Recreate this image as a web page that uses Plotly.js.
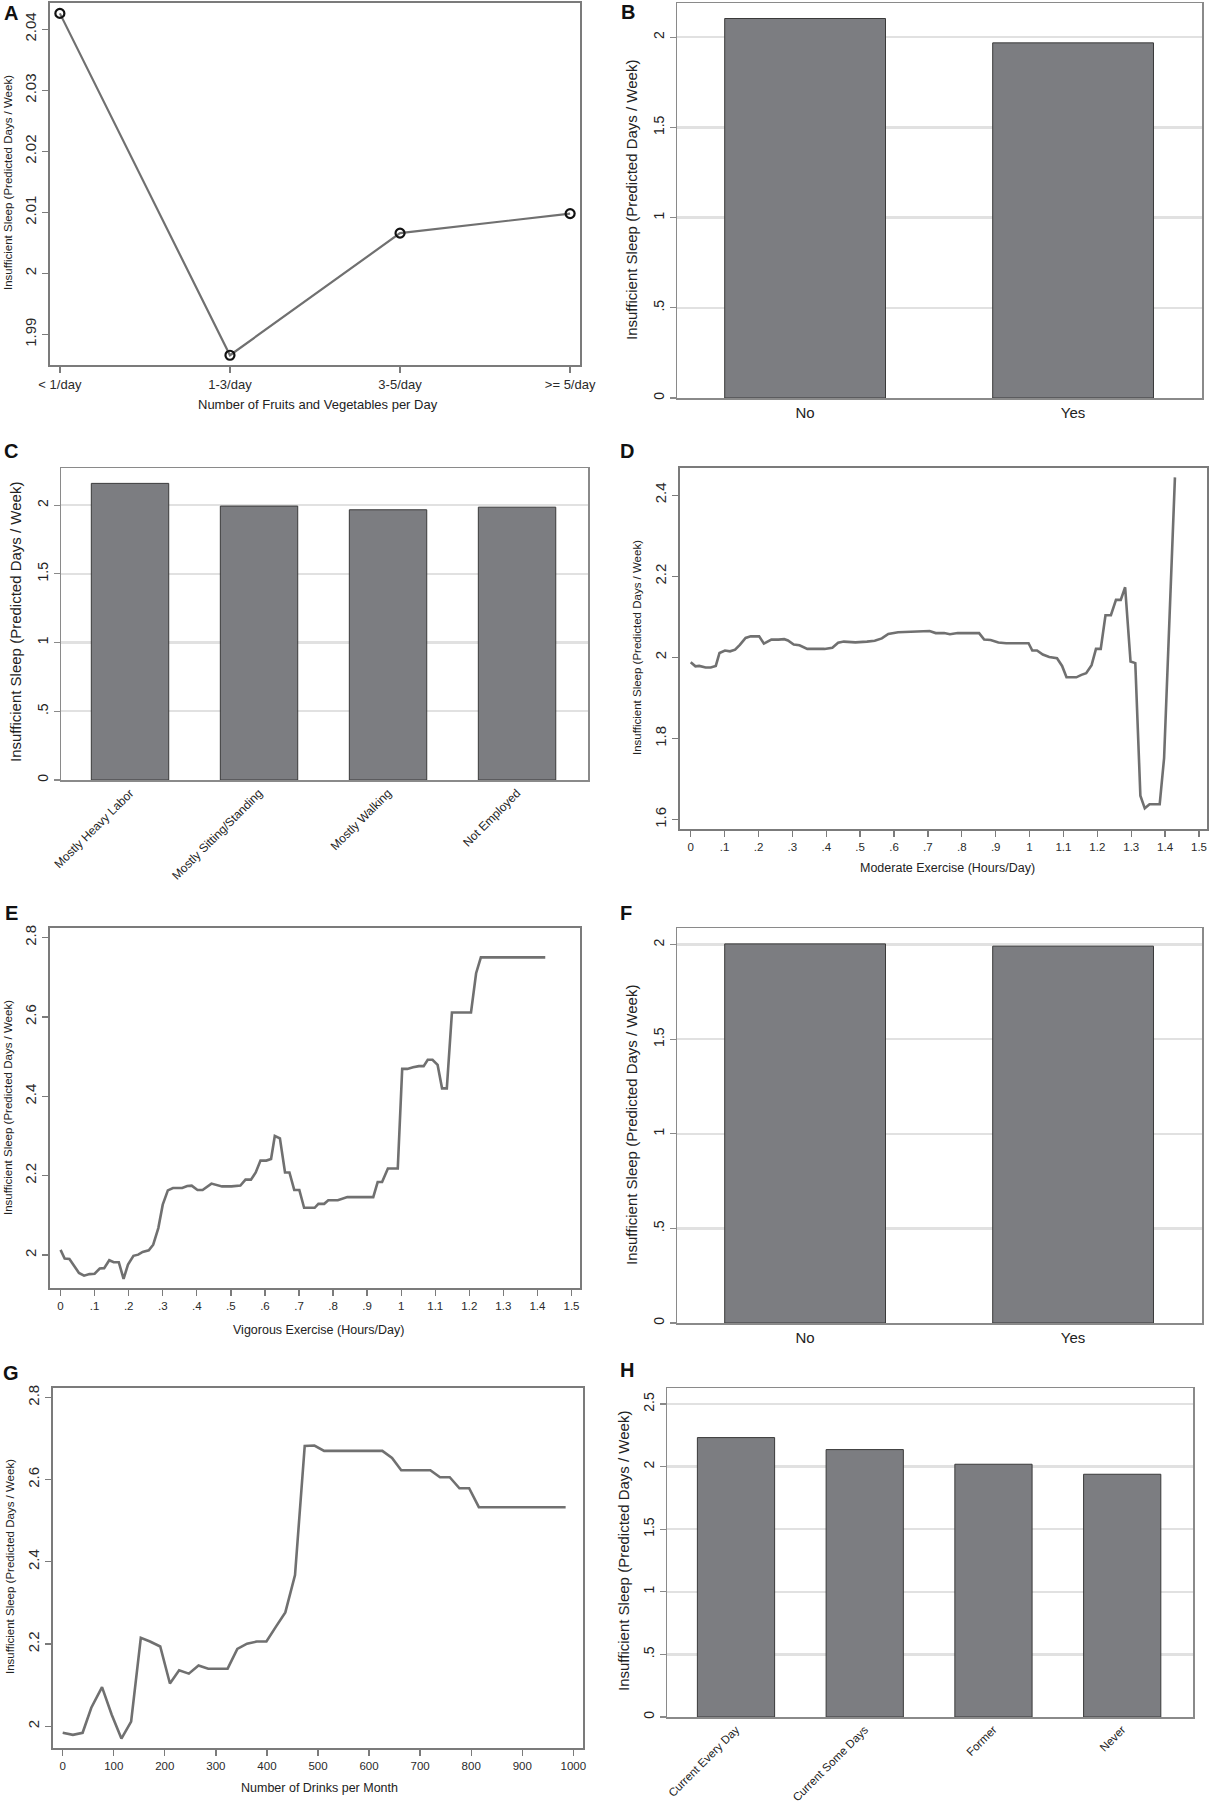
<!DOCTYPE html>
<html>
<head>
<meta charset="utf-8">
<script src="https://cdn.plot.ly/plotly-3.0.1.min.js"></script>
<style>html,body{margin:0;padding:0;background:#fff;}#chart{width:1209px;height:1806px;}</style>
</head>
<body>
<div id="chart"></div>
<script>
// ---------- DATA ----------
const fruitVegCats = ['< 1/day', '1-3/day', '3-5/day', '>= 5/day'];
const fruitVegVals = [2.0426, 1.9866, 2.0066, 2.0098];

const panelBCats = ['No', 'Yes'];
const panelBVals = [2.104, 1.969];

const jobCats = ['Mostly Heavy Labor', 'Mostly Sitting/Standing', 'Mostly Walking', 'Not Employed'];
const jobVals = [2.158, 1.993, 1.966, 1.985];

const moderateHours = [
  0, 0.014, 0.025, 0.044, 0.059, 0.074, 0.085, 0.101, 0.116, 0.131,
  0.145, 0.162, 0.177, 0.202, 0.216, 0.238, 0.259, 0.276, 0.287, 0.304,
  0.321, 0.344, 0.367, 0.395, 0.418, 0.435, 0.452, 0.486, 0.520, 0.543,
  0.564, 0.583, 0.612, 0.646, 0.674, 0.705, 0.723, 0.748, 0.765, 0.788,
  0.822, 0.851, 0.866, 0.885, 0.908, 0.931, 0.965, 0.997, 1.008, 1.022,
  1.039, 1.058, 1.081, 1.096, 1.109, 1.138, 1.153, 1.167, 1.183, 1.196,
  1.210, 1.224, 1.240, 1.255, 1.269, 1.282, 1.298, 1.312, 1.327, 1.340,
  1.354, 1.384, 1.397, 1.411, 1.429];
const moderateVals = [
  1.988, 1.978, 1.979, 1.975, 1.975, 1.979, 2.011, 2.017, 2.015, 2.019,
  2.031, 2.048, 2.052, 2.052, 2.034, 2.044, 2.044, 2.045, 2.042, 2.032,
  2.030, 2.021, 2.021, 2.021, 2.024, 2.036, 2.039, 2.037, 2.039, 2.041,
  2.047, 2.058, 2.062, 2.063, 2.065, 2.065, 2.060, 2.060, 2.057, 2.060,
  2.060, 2.060, 2.044, 2.043, 2.037, 2.035, 2.035, 2.035, 2.017, 2.017,
  2.007, 2.001, 1.998, 1.979, 1.951, 1.951, 1.957, 1.961, 1.981, 2.021,
  2.021, 2.104, 2.104, 2.142, 2.142, 2.173, 1.990, 1.986, 1.659, 1.628,
  1.638, 1.638, 1.752, 2.056, 2.444];

const vigorousHours = [
  0, 0.012, 0.026, 0.043, 0.054, 0.069, 0.085, 0.100, 0.115, 0.128,
  0.143, 0.156, 0.171, 0.185, 0.198, 0.214, 0.228, 0.241, 0.259, 0.272,
  0.287, 0.300, 0.315, 0.330, 0.357, 0.372, 0.385, 0.402, 0.417, 0.443,
  0.457, 0.474, 0.502, 0.528, 0.543, 0.559, 0.573, 0.587, 0.604, 0.618,
  0.629, 0.644, 0.659, 0.672, 0.686, 0.701, 0.715, 0.746, 0.757, 0.774,
  0.786, 0.814, 0.842, 0.876, 0.918, 0.931, 0.944, 0.961, 0.990, 1.003,
  1.018, 1.035, 1.052, 1.066, 1.078, 1.092, 1.107, 1.120, 1.134, 1.149,
  1.205, 1.220, 1.234, 1.423];
const vigorousVals = [
  2.013, 1.991, 1.990, 1.967, 1.955, 1.948, 1.952, 1.953, 1.966, 1.967,
  1.987, 1.982, 1.982, 1.940, 1.976, 1.998, 2.001, 2.008, 2.012, 2.026,
  2.068, 2.127, 2.163, 2.169, 2.169, 2.174, 2.175, 2.164, 2.164, 2.180,
  2.177, 2.173, 2.173, 2.175, 2.190, 2.190, 2.208, 2.238, 2.238, 2.242,
  2.300, 2.294, 2.208, 2.208, 2.164, 2.164, 2.119, 2.119, 2.129, 2.129,
  2.138, 2.138, 2.146, 2.146, 2.146, 2.184, 2.184, 2.218, 2.218, 2.469,
  2.469, 2.473, 2.476, 2.476, 2.492, 2.492, 2.479, 2.420, 2.420, 2.611,
  2.611, 2.710, 2.750, 2.750];

const panelFCats = ['No', 'Yes'];
const panelFVals = [2.004, 1.992];

const drinksPerMonth = [
  0, 11, 20, 39, 56, 77, 96, 115, 134, 153,
  171, 191, 210, 228, 247, 266, 285, 304, 323, 342,
  361, 380, 399, 418, 436, 455, 474, 493, 512, 626,
  645, 663, 720, 739, 758, 777, 796, 815, 985];
const drinksVals = [
  1.984, 1.982, 1.979, 1.984, 2.045, 2.095, 2.028, 1.970, 2.011, 2.215,
  2.206, 2.194, 2.104, 2.136, 2.128, 2.148, 2.140, 2.140, 2.140, 2.188,
  2.201, 2.206, 2.206, 2.243, 2.277, 2.368, 2.682, 2.683, 2.670, 2.670,
  2.653, 2.623, 2.623, 2.606, 2.606, 2.579, 2.579, 2.533, 2.533];

const smokingCats = ['Current Every Day', 'Current Some Days', 'Former', 'Never'];
const smokingVals = [2.232, 2.136, 2.019, 1.939];

// tick labels
const fruitYTicks = [1.99, 2, 2.01, 2.02, 2.03, 2.04];
const fruitYText = ['1.99', '2', '2.01', '2.02', '2.03', '2.04'];
const barYTicks = [0, 0.5, 1, 1.5, 2, 2.5];
const barYText = ['0', '.5', '1', '1.5', '2', '2.5'];
const moderateYTicks = [1.6, 1.8, 2, 2.2, 2.4];
const moderateYText = ['1.6', '1.8', '2', '2.2', '2.4'];
const highYTicks = [2, 2.2, 2.4, 2.6, 2.8];
const highYText = ['2', '2.2', '2.4', '2.6', '2.8'];
const hoursTicks = [0, 0.1, 0.2, 0.3, 0.4, 0.5, 0.6, 0.7, 0.8, 0.9, 1, 1.1, 1.2, 1.3, 1.4, 1.5];
const hoursText = ['0', '.1', '.2', '.3', '.4', '.5', '.6', '.7', '.8', '.9', '1', '1.1', '1.2', '1.3', '1.4', '1.5'];
const drinksTicks = [0, 100, 200, 300, 400, 500, 600, 700, 800, 900, 1000];
const drinksText = ['0', '100', '200', '300', '400', '500', '600', '700', '800', '900', '1000'];

const yTitle = 'Insufficient Sleep (Predicted Days / Week)';

// ---------- LAYOUT HELPERS ----------
const W = 1209, H = 1806;
const FONT = 'Liberation Sans, Arial, Helvetica, sans-serif';
const BAR_FILL = '#7c7d81';
const LINE_GRAY = '#707070';

function xd(l, r) { return [l / W, r / W]; }
function yd(t, b) { return [1 - b / H, 1 - t / H]; }

function rAxisX(n, dom, range, extra) {
  return Object.assign({
    anchor: 'y' + n, domain: dom, range: range, showline: true, mirror: true, linecolor: '#7b7b7b', linewidth: 2,
    ticks: 'outside', ticklen: 6, tickwidth: 1.3, tickcolor: '#7b7b7b', showgrid: false, zeroline: false,
    tickfont: {family: FONT, size: 12, color: '#2a2a2a'}, fixedrange: true
  }, extra);
}
function rAxisY(n, dom, range, tv, tt, extra) {
  return Object.assign({
    anchor: 'x' + n, domain: dom, range: range, showline: true, mirror: true, linecolor: '#7b7b7b', linewidth: 2,
    ticks: 'outside', ticklen: 6, tickwidth: 1.3, tickcolor: '#7b7b7b', showgrid: false, zeroline: false,
    tickmode: 'array', tickvals: tv, ticktext: tt, tickangle: -90,
    tickfont: {family: FONT, size: 15, color: '#2a2a2a'}, fixedrange: true
  }, extra);
}
function sAxisX(n, dom, range, extra) {
  return Object.assign({
    anchor: 'y' + n, domain: dom, range: range, type: 'category', showline: true, mirror: true, linecolor: '#8a8a8a', linewidth: 1.5,
    ticks: '', showgrid: false, zeroline: false,
    tickfont: {family: FONT, size: 15, color: '#222'}, fixedrange: true
  }, extra);
}
function sAxisY(n, dom, range, extra) {
  return Object.assign({
    anchor: 'x' + n, domain: dom, range: range, showline: true, mirror: true, linecolor: '#8a8a8a', linewidth: 1.5,
    ticks: 'outside', ticklen: 6, tickwidth: 1.2, tickcolor: '#8a8a8a',
    showgrid: true, gridcolor: '#e1e1e1', gridwidth: 2.4, zeroline: false,
    tickmode: 'array', tickvals: barYTicks, ticktext: barYText, tickangle: -90,
    tickfont: {family: FONT, size: 14, color: '#222'}, fixedrange: true
  }, extra);
}

function barTrace(cats, vals, xa, ya) {
  return {type: 'bar', x: cats, y: vals, xaxis: xa, yaxis: ya, width: 0.6,
    marker: {color: BAR_FILL, line: {color: '#3a3a3a', width: 1}}, hoverinfo: 'x+y'};
}
function lineTrace(xs, ys, xa, ya) {
  return {type: 'scatter', mode: 'lines', x: xs, y: ys, xaxis: xa, yaxis: ya,
    line: {color: LINE_GRAY, width: 2.6}};
}

const traces = [
  {type: 'scatter', mode: 'lines+markers', x: fruitVegCats, y: fruitVegVals, xaxis: 'x', yaxis: 'y',
   line: {color: LINE_GRAY, width: 2.2},
   marker: {symbol: 'circle-open', size: 9, color: '#111', line: {width: 2.2, color: '#111'}}},
  barTrace(panelBCats, panelBVals, 'x2', 'y2'),
  barTrace(jobCats, jobVals, 'x3', 'y3'),
  lineTrace(moderateHours, moderateVals, 'x4', 'y4'),
  lineTrace(vigorousHours, vigorousVals, 'x5', 'y5'),
  barTrace(panelFCats, panelFVals, 'x6', 'y6'),
  lineTrace(drinksPerMonth, drinksVals, 'x7', 'y7'),
  barTrace(smokingCats, smokingVals, 'x8', 'y8')
];

function ann(text, xpx, ypx, size, opts) {
  return Object.assign({text: text, x: xpx / W, y: 1 - ypx / H, xref: 'paper', yref: 'paper',
    xanchor: 'center', yanchor: 'middle', showarrow: false,
    font: {family: FONT, size: size, color: '#222'}}, opts || {});
}
function letter(t, xpx, ypx) {
  return ann('<b>' + t + '</b>', xpx, ypx, 20, {font: {family: FONT, size: 20, color: '#111'}});
}

const layout = {
  width: W, height: H, margin: {l: 0, r: 0, t: 0, b: 0}, showlegend: false,
  paper_bgcolor: '#fff', plot_bgcolor: '#fff', font: {family: FONT, color: '#222'},
  // A
  xaxis: rAxisX('', xd(50, 580), [-0.058, 3.058], {type: 'category', tickfont: {family: FONT, size: 13, color: '#2a2a2a'}}),
  yaxis: rAxisY('', yd(3, 365), [1.985, 2.0443], fruitYTicks, fruitYText),
  // B
  xaxis2: sAxisX(2, xd(677, 1202), [-0.478, 1.481]),
  yaxis2: sAxisY(2, yd(3, 398), [0, 2.19]),
  // C
  xaxis3: sAxisX(3, xd(61, 588), [-0.535, 3.55], {tickangle: -45, tickfont: {family: FONT, size: 12, color: '#222'}}),
  yaxis3: sAxisY(3, yd(468, 780), [0, 2.27]),
  // D
  xaxis4: rAxisX(4, xd(680, 1207), [-0.0316, 1.5236], {tickmode: 'array', tickvals: hoursTicks, ticktext: hoursText, tickfont: {family: FONT, size: 11.5, color: '#2a2a2a'}}),
  yaxis4: rAxisY(4, yd(468, 829), [1.577, 2.467], moderateYTicks, moderateYText),
  // E
  xaxis5: rAxisX(5, xd(50, 580), [-0.031, 1.525], {tickmode: 'array', tickvals: hoursTicks, ticktext: hoursText, tickfont: {family: FONT, size: 11.5, color: '#2a2a2a'}}),
  yaxis5: rAxisY(5, yd(928, 1288), [1.917, 2.824], highYTicks, highYText),
  // F
  xaxis6: sAxisX(6, xd(677, 1202), [-0.478, 1.481]),
  yaxis6: sAxisY(6, yd(928, 1323), [0, 2.088]),
  // G
  xaxis7: rAxisX(7, xd(53, 583), [-19, 1019], {tickmode: 'array', tickvals: drinksTicks, ticktext: drinksText, tickfont: {family: FONT, size: 11.5, color: '#2a2a2a'}}),
  yaxis7: rAxisY(7, yd(1388, 1748), [1.947, 2.823], highYTicks, highYText),
  // H
  xaxis8: sAxisX(8, xd(667, 1193), [-0.536, 3.55], {tickangle: -45, tickfont: {family: FONT, size: 11.5, color: '#222'}}),
  yaxis8: sAxisY(8, yd(1388, 1717), [0, 2.628]),
  annotations: [
    letter('A', 11, 13), letter('B', 628, 12), letter('C', 11, 451), letter('D', 627, 451),
    letter('E', 11, 913), letter('F', 626, 913), letter('G', 11, 1373), letter('H', 627, 1370),
    // A
    ann(yTitle, 8, 183, 11.5, {textangle: -90}),
    ann('Number of Fruits and Vegetables per Day', 318, 404, 13),
    // B
    ann(yTitle, 631, 200, 15, {textangle: -90}),
    // C
    ann(yTitle, 15, 622, 15, {textangle: -90}),
    // D
    ann(yTitle, 637, 648, 11.5, {textangle: -90}),
    ann('Moderate Exercise (Hours/Day)', 947, 868, 12.5),
    // E
    ann(yTitle, 8, 1108, 11.5, {textangle: -90}),
    ann('Vigorous Exercise (Hours/Day)', 318, 1330, 12.5),
    // F
    ann(yTitle, 631, 1125, 15, {textangle: -90}),
    // G
    ann(yTitle, 10, 1567, 11.5, {textangle: -90}),
    ann('Number of Drinks per Month', 319, 1788, 12.5),
    // H
    ann(yTitle, 623, 1551, 15, {textangle: -90})
  ]
};

Plotly.newPlot('chart', traces, layout, {displayModeBar: false, staticPlot: true});
</script>
</body>
</html>
